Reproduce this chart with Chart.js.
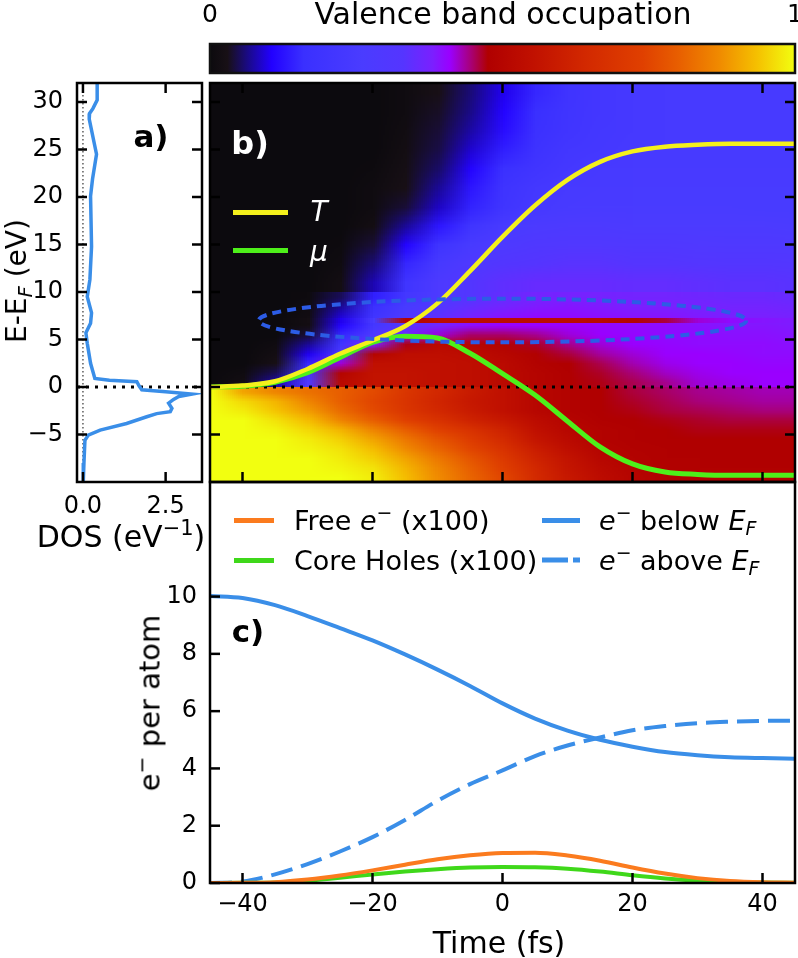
<!DOCTYPE html>
<html><head><meta charset="utf-8"><title>Valence band occupation</title>
<script src="https://cdn.jsdelivr.net/npm/chart.js@4.4.1/dist/chart.umd.min.js"></script>
<style>
html,body{margin:0;padding:0;background:#fff;}
body{width:798px;height:958px;position:relative;overflow:hidden;font-family:"DejaVu Sans",sans-serif;color:#000;}
.box{position:absolute;}
.t{position:absolute;white-space:nowrap;transform:translate(-50%,-50%);line-height:1;}
.l{position:absolute;white-space:nowrap;transform:translateY(-50%);line-height:1;}
.rot{transform:translate(-50%,-50%) rotate(-90deg);}
sub{font-size:70%;vertical-align:-0.3em;line-height:0;}
sup{font-size:70%;vertical-align:0.55em;line-height:0;}
.sw{position:absolute;height:5px;}
</style></head><body>
<div class="box" style="left:190px;top:0;width:608px;height:80px"><canvas id="cbar"></canvas></div>
<div class="box" style="left:0;top:70px;width:206px;height:500px"><canvas id="dos"></canvas></div>
<div class="box" style="left:200px;top:70px;width:598px;height:420px"><canvas id="heat"></canvas></div>
<div class="box" style="left:100px;top:470px;width:698px;height:488px"><canvas id="pop"></canvas></div>

<div class="t" style="left:503px;top:14px;font-size:30px">Valence band occupation</div>
<div class="t rot" style="left:17px;top:281px;font-size:28px">E-E<sub><i>F</i></sub> (eV)</div>
<div class="t" style="left:121px;top:537px;font-size:30px">DOS (eV<sup>−1</sup>)</div>
<div class="t rot" style="left:150px;top:703px;font-size:29px">e<sup>−</sup> per atom</div>
<div class="t" style="left:499px;top:943px;font-size:30px">Time (fs)</div>
<div class="t" style="left:151px;top:136px;font-size:31px;font-weight:bold">a)</div>
<div class="t" style="left:250px;top:143px;font-size:32px;font-weight:bold;color:#fff">b)</div>
<div class="t" style="left:248px;top:631px;font-size:31px;font-weight:bold">c)</div>

<div class="sw" style="left:233px;top:209.5px;width:55px;background:#f4f01c"></div>
<div class="t" style="left:319px;top:212px;font-size:28px;font-style:italic;color:#fff">T</div>
<div class="sw" style="left:233px;top:247.5px;width:55px;background:#4ef01a"></div>
<div class="t" style="left:319px;top:252px;font-size:28px;font-style:italic;color:#fff">μ</div>

<div class="sw" style="left:234px;top:517.5px;width:40px;background:#fb7b1e"></div>
<div class="l" style="left:294px;top:520px;font-size:27px">Free <i>e</i><sup>−</sup>&nbsp;(x100)</div>
<div class="sw" style="left:234px;top:557.5px;width:40px;background:#3fd81a"></div>
<div class="l" style="left:294px;top:560px;font-size:27px">Core Holes (x100)</div>
<div class="sw" style="left:542px;top:517.5px;width:38px;background:#3a8ee8"></div>
<div class="l" style="left:599px;top:520px;font-size:27px"><i>e</i><sup>−</sup> below <i>E<sub>F</sub></i></div>
<svg style="position:absolute;left:542px;top:555px" width="38" height="10"><line x1="0" y1="5" x2="38" y2="5" stroke="#3a8ee8" stroke-width="5" stroke-dasharray="26,5"/></svg>
<div class="l" style="left:599px;top:560px;font-size:27px"><i>e</i><sup>−</sup> above <i>E<sub>F</sub></i></div>

<script>
// ================= DATA =================
// colour bar
const cbTicks = [0, 1];
const cmapPos    = [0, 0.03, 0.065, 0.105, 0.16, 0.26, 0.33, 0.38, 0.41, 0.445, 0.475, 0.55, 0.64, 0.74, 0.80, 0.87, 0.935, 1];
const cmapColors = ['#0c0a0e','#181016','#1a0a88','#2200ff','#3a30ff','#4a3cff','#5535ff','#7a20ff','#9a00ff','#a8007a','#b00000','#c01000','#d22800','#e04000','#e85e00','#f08a00','#f5c000','#f2ff10'];

// panel a: density of states
const dosE   = [32.2, 30.2, 29.3, 28.8, 28.2, 24.5, 21.9, 20.1, 14.8, 11.3, 9.5, 7.8, 6.7, 5.7, 4.6, 2.5, 0.9, 0.7, 0.55, 0.1, -0.3, -0.5, -0.75, -1.0, -1.3, -1.7, -2.25, -2.6, -2.8, -3.13, -3.84, -4.54, -5.06, -5.6, -8.0, -10];
const dosVal = [0.43, 0.43, 0.30, 0.20, 0.19, 0.41, 0.29, 0.23, 0.26, 0.21, 0.13, 0.26, 0.23, 0.09, 0.13, 0.23, 0.36, 0.80, 1.63, 1.70, 1.78, 2.50, 3.29, 2.90, 2.74, 2.59, 2.69, 2.64, 2.23, 1.93, 1.32, 0.52, 0.16, 0.06, 0.03, 0.01];
const dosTicksX = [0, 2.5];
const energyTicks = [-5, 0, 5, 10, 15, 20, 25, 30];

// time axis (fs)
const timeFs = [-45,-40,-35,-30,-25,-20,-15,-10,-5,0,5,10,15,20,25,30,35,40,45];
const timeTicks = [-40, -20, 0, 20, 40];

// panel b: valence band occupation map (rows = energy, columns = timeFs)
const occLowE = [-9.5,-8.5,-7.5,-6.5,-5.5,-4.5,-3.5,-2.5,-1.5,-0.5];
const occLow = [
 [1,1,1,1,1,0.98,0.93,0.87,0.81,0.75,0.65,0.58,0.53,0.5,0.485,0.48,0.48,0.48,0.48],
 [1,1,1,1,0.99,0.97,0.92,0.86,0.8,0.73,0.64,0.57,0.52,0.495,0.48,0.48,0.48,0.48,0.48],
 [1,1,1,1,0.98,0.95,0.9,0.84,0.78,0.71,0.62,0.56,0.51,0.49,0.48,0.48,0.475,0.475,0.475],
 [1,1,1,0.99,0.97,0.93,0.87,0.81,0.75,0.68,0.6,0.54,0.5,0.485,0.48,0.475,0.475,0.475,0.475],
 [1,1,1,0.98,0.95,0.9,0.84,0.78,0.72,0.65,0.57,0.52,0.49,0.48,0.475,0.475,0.475,0.475,0.475],
 [1,1,0.99,0.96,0.92,0.86,0.8,0.74,0.68,0.62,0.55,0.51,0.49,0.48,0.475,0.47,0.47,0.47,0.47],
 [1,1,0.97,0.93,0.86,0.8,0.74,0.68,0.62,0.58,0.53,0.5,0.48,0.475,0.47,0.465,0.46,0.46,0.46],
 [1,0.98,0.94,0.89,0.82,0.76,0.7,0.64,0.59,0.55,0.51,0.49,0.475,0.47,0.46,0.455,0.45,0.445,0.445],
 [1,0.96,0.92,0.86,0.8,0.75,0.69,0.63,0.58,0.55,0.51,0.49,0.475,0.465,0.455,0.445,0.44,0.435,0.435],
 [1,0.9,0.86,0.83,0.8,0.76,0.7,0.64,0.59,0.55,0.51,0.49,0.475,0.46,0.45,0.44,0.435,0.43,0.43]
];
const occMidE = [0.5,1.5,2.5,3.5,4.5,5.5,6.5,7.5,8.5,9.5];
const occMid = [
 [0,0.02,0.08,0.3,0.52,0.56,0.56,0.55,0.54,0.52,0.5,0.48,0.47,0.455,0.44,0.42,0.415,0.41,0.41],
 [0,0.01,0.05,0.22,0.5,0.56,0.56,0.55,0.54,0.52,0.5,0.48,0.465,0.445,0.425,0.415,0.41,0.41,0.41],
 [0,0,0.03,0.15,0.42,0.55,0.55,0.55,0.54,0.52,0.49,0.475,0.455,0.43,0.415,0.41,0.41,0.405,0.405],
 [0,0,0.02,0.1,0.28,0.5,0.54,0.54,0.53,0.51,0.485,0.46,0.435,0.42,0.41,0.41,0.405,0.4,0.4],
 [0,0,0.01,0.07,0.2,0.38,0.47,0.52,0.51,0.49,0.465,0.44,0.42,0.41,0.405,0.4,0.4,0.4,0.395],
 [0,0,0,0.04,0.15,0.28,0.37,0.42,0.45,0.45,0.44,0.42,0.41,0.405,0.4,0.4,0.395,0.395,0.39],
 [0,0,0,0.02,0.11,0.23,0.32,0.37,0.4,0.41,0.41,0.41,0.405,0.4,0.4,0.395,0.39,0.39,0.385],
 [0,0,0,0.015,0.09,0.2,0.28,0.34,0.37,0.39,0.4,0.4,0.395,0.39,0.39,0.385,0.38,0.38,0.375],
 [0,0,0,0.01,0.07,0.17,0.25,0.31,0.35,0.37,0.385,0.39,0.385,0.38,0.38,0.375,0.37,0.37,0.365],
 [0,0,0,0.005,0.05,0.14,0.22,0.28,0.32,0.35,0.37,0.375,0.375,0.37,0.37,0.365,0.36,0.36,0.355]
];
const occHighE = [11,13,15,17,19,21,23,25,27,29,31];
const occHigh = [
 [0,0,0,0,0.02,0.08,0.2,0.28,0.32,0.345,0.355,0.355,0.355,0.35,0.35,0.345,0.34,0.34,0.335],
 [0,0,0,0,0.01,0.06,0.15,0.24,0.29,0.32,0.33,0.335,0.335,0.33,0.33,0.325,0.32,0.32,0.315],
 [0,0,0,0,0.005,0.04,0.11,0.19,0.25,0.285,0.3,0.305,0.305,0.3,0.3,0.295,0.29,0.29,0.29],
 [0,0,0,0,0,0.02,0.07,0.13,0.2,0.25,0.27,0.28,0.28,0.275,0.275,0.27,0.27,0.27,0.265],
 [0,0,0,0,0,0.01,0.04,0.085,0.145,0.2,0.235,0.25,0.255,0.255,0.255,0.255,0.255,0.25,0.25],
 [0,0,0,0,0,0.01,0.03,0.07,0.13,0.19,0.225,0.24,0.245,0.25,0.25,0.25,0.25,0.25,0.25],
 [0,0,0,0,0,0.005,0.025,0.055,0.11,0.165,0.205,0.23,0.24,0.245,0.245,0.245,0.245,0.245,0.245],
 [0,0,0,0,0,0,0.02,0.045,0.09,0.14,0.185,0.215,0.23,0.24,0.24,0.24,0.24,0.24,0.24],
 [0,0,0,0,0,0,0.015,0.04,0.075,0.12,0.17,0.205,0.225,0.235,0.24,0.24,0.24,0.24,0.24],
 [0,0,0,0,0,0,0.01,0.035,0.065,0.11,0.16,0.2,0.22,0.235,0.24,0.24,0.24,0.24,0.24],
 [0,0,0,0,0,0,0.01,0.03,0.06,0.1,0.15,0.195,0.22,0.235,0.24,0.24,0.24,0.24,0.24]
];
// narrow occupied level near 7 eV
const stripeEdges = [6.7, 7.3];
const stripeOcc = [0,0,0,0.02,0.1,0.25,0.5,0.53,0.53,0.53,0.53,0.53,0.52,0.5,0.46,0.42,0.4,0.39,0.385];

// panel b: temperature T and chemical potential mu (eV)
const tempT = [0, 0.15, 0.6, 1.9, 3.5, 4.9, 6.4, 8.8, 12.2, 15.8, 19.1, 21.8, 23.7, 24.8, 25.3, 25.5, 25.6, 25.6, 25.6];
const chemMu = [0, 0.08, 0.5, 1.5, 3.1, 4.7, 5.35, 5.15, 3.55, 1.4, -0.85, -3.6, -6.3, -8.1, -8.95, -9.2, -9.3, -9.3, -9.3];
// highlighted region (ellipse): centre (time, energy) and half-widths
const ellipseCenter = [0, 7.0];
const ellipseHalf = [37.5, 2.3];

// panel c: electrons per atom
const eBelow = [10.02, 9.95, 9.7, 9.32, 8.9, 8.47, 7.98, 7.45, 6.88, 6.27, 5.74, 5.32, 5.0, 4.76, 4.57, 4.46, 4.39, 4.36, 4.34];
const eAbove = [0, 0.05, 0.3, 0.66, 1.1, 1.6, 2.2, 2.87, 3.45, 3.93, 4.43, 4.8, 5.08, 5.33, 5.48, 5.58, 5.63, 5.66, 5.67];
const freeE100 = [0, 0.005, 0.03, 0.12, 0.26, 0.44, 0.64, 0.83, 0.97, 1.05, 1.06, 0.96, 0.78, 0.54, 0.33, 0.17, 0.07, 0.025, 0.01];
const coreHoles100 = [0, 0.005, 0.02, 0.08, 0.18, 0.3, 0.4, 0.48, 0.54, 0.56, 0.55, 0.5, 0.4, 0.27, 0.16, 0.08, 0.035, 0.015, 0.005];
const popTicksY = [0, 2, 4, 6, 8, 10];

// ================= HELPERS =================
Chart.defaults.font.family = '"DejaVu Sans", sans-serif';
Chart.defaults.color = '#000';
const minus = v => String(v).replace('-', '\u2212');
const hex = h => [1,3,5].map(i => parseInt(h.substr(i,2),16));
const cmapRGB = cmapColors.map(hex);
function cmap(v){
  v = Math.max(0, Math.min(1, v));
  let i = 1; while (i < cmapPos.length - 1 && v > cmapPos[i]) i++;
  const f = (v - cmapPos[i-1]) / (cmapPos[i] - cmapPos[i-1]);
  return [0,1,2].map(k => Math.round(cmapRGB[i-1][k] + (cmapRGB[i][k] - cmapRGB[i-1][k]) * f));
}
function drawOcc(chart, rows, eLo, eHi){
  const nx = timeFs.length, ny = rows.length;
  const off = document.createElement('canvas'); off.width = nx; off.height = ny;
  const octx = off.getContext('2d'); const img = octx.createImageData(nx, ny);
  for (let r = 0; r < ny; r++){
    const row = rows[ny - 1 - r];
    for (let c = 0; c < nx; c++){
      const col = cmap(row[c]); const k = (r*nx + c)*4;
      img.data[k] = col[0]; img.data[k+1] = col[1]; img.data[k+2] = col[2]; img.data[k+3] = 255;
    }
  }
  octx.putImageData(img, 0, 0);
  const xs = chart.scales.x, ys = chart.scales.y, ctx = chart.ctx;
  const dt = timeFs[1] - timeFs[0];
  const x0 = xs.getPixelForValue(timeFs[0] - dt/2), x1 = xs.getPixelForValue(timeFs[nx-1] + dt/2);
  const y0 = ys.getPixelForValue(eHi), y1 = ys.getPixelForValue(eLo);
  ctx.imageSmoothingEnabled = true; ctx.imageSmoothingQuality = 'low';
  ctx.drawImage(off, x0, y0, x1 - x0, y1 - y0);
}
function deco(chart, spec){
  const {ctx, chartArea: a} = chart; const xs = chart.scales.x, ys = chart.scales.y;
  const L = 10;
  ctx.save(); ctx.strokeStyle = '#000'; ctx.lineWidth = 2.5;
  (spec.xt || []).forEach(v => { const p = xs.getPixelForValue(v);
    (spec.xs || []).forEach(s => { ctx.beginPath();
      if (s === 'b'){ ctx.moveTo(p, a.bottom); ctx.lineTo(p, a.bottom - L); } else { ctx.moveTo(p, a.top); ctx.lineTo(p, a.top + L); }
      ctx.stroke(); }); });
  (spec.yt || []).forEach(v => { const p = ys.getPixelForValue(v);
    (spec.ys || []).forEach(s => { ctx.beginPath();
      if (s === 'l'){ ctx.moveTo(a.left, p); ctx.lineTo(a.left + L, p); } else { ctx.moveTo(a.right, p); ctx.lineTo(a.right - L, p); }
      ctx.stroke(); }); });
  ctx.strokeRect(a.left, a.top, a.right - a.left, a.bottom - a.top);
  ctx.restore();
}
function zeroLine(chart){
  const {ctx, chartArea: a} = chart; const p = chart.scales.y.getPixelForValue(0);
  ctx.save(); ctx.strokeStyle = '#000'; ctx.lineWidth = 3; ctx.setLineDash([3, 6]);
  ctx.beginPath(); ctx.moveTo(a.left, p); ctx.lineTo(a.right, p); ctx.stroke(); ctx.restore();
}
const base = {responsive: true, maintainAspectRatio: false, animation: false, events: [],
  plugins: {legend: {display: false}, tooltip: {enabled: false}}};
const pts = (xs, ys) => xs.map((x, i) => ({x: x, y: ys[i]}));
const tickFont = {size: 24};

// ================= COLOUR BAR =================
new Chart(document.getElementById('cbar'), {
  type: 'scatter', data: {datasets: []},
  options: Object.assign({}, base, {
    layout: {padding: {left: 20, right: 3, top: 0, bottom: 7}},
    scales: {
      x: {type: 'linear', position: 'top', min: 0, max: 1,
        afterBuildTicks: s => { s.ticks = cbTicks.map(v => ({value: v})); },
        afterFit: s => { s.height = 44; s.paddingLeft = 0; s.paddingRight = 0; },
        grid: {display: false, drawTicks: false}, border: {display: false},
        ticks: {padding: 14, font: {size: 25}, autoSkip: false, maxRotation: 0, callback: v => String(v)}},
      y: {display: false, min: 0, max: 1}
    }}),
  plugins: [{id: 'cb', afterDraw(chart){
    const {ctx, chartArea: a} = chart; const x = chart.scales.x;
    const x0 = x.getPixelForValue(0), x1 = x.getPixelForValue(1);
    const g = ctx.createLinearGradient(x0, 0, x1, 0);
    cmapPos.forEach((p, i) => g.addColorStop(p, cmapColors[i]));
    ctx.save(); ctx.fillStyle = g; ctx.fillRect(x0, a.top, x1 - x0, a.bottom - a.top);
    ctx.lineWidth = 2.5; ctx.strokeStyle = '#111'; ctx.strokeRect(x0, a.top, x1 - x0, a.bottom - a.top); ctx.restore();
  }}]
});

// ================= PANEL A =================
new Chart(document.getElementById('dos'), {
  type: 'scatter',
  data: {datasets: [{data: pts(dosVal, dosE), showLine: true, borderColor: '#3a8ee8', borderWidth: 3.5, pointRadius: 0, tension: 0}]},
  options: Object.assign({}, base, {
    layout: {padding: {left: 0, right: 4, top: 13, bottom: 0}},
    scales: {
      x: {type: 'linear', min: -0.18, max: 3.6,
        afterBuildTicks: s => { s.ticks = dosTicksX.map(v => ({value: v})); },
        afterFit: s => { s.height = 88; s.paddingLeft = 0; s.paddingRight = 0; },
        grid: {display: false, drawTicks: false}, border: {display: false},
        ticks: {padding: 10, font: tickFont, maxRotation: 0, autoSkip: false, callback: v => v.toFixed(1)}},
      y: {type: 'linear', min: -10, max: 32,
        afterBuildTicks: s => { s.ticks = energyTicks.map(v => ({value: v})); },
        afterFit: s => { s.width = 77; s.paddingTop = 0; s.paddingBottom = 0; },
        grid: {display: false, drawTicks: false}, border: {display: false},
        ticks: {padding: 14, font: tickFont, autoSkip: false, callback: minus}}
    }}),
  plugins: [{id: 'a', beforeDatasetsDraw(chart){
      const {ctx, chartArea: a} = chart; const p = chart.scales.x.getPixelForValue(0);
      ctx.save(); ctx.strokeStyle = '#333'; ctx.lineWidth = 1.2; ctx.setLineDash([1.5, 2.5]);
      ctx.beginPath(); ctx.moveTo(p, a.top); ctx.lineTo(p, a.bottom); ctx.stroke(); ctx.restore();
      zeroLine(chart);
    },
    afterDatasetsDraw(chart){ deco(chart, {xt: dosTicksX, xs: ['t','b'], yt: energyTicks, ys: ['l','r']}); }}]
});

// ================= PANEL B =================
new Chart(document.getElementById('heat'), {
  type: 'scatter',
  data: {datasets: [
    {label: 'T', data: pts(timeFs, tempT), showLine: true, borderColor: '#f4f01c', borderWidth: 4.5, pointRadius: 0, cubicInterpolationMode: 'monotone'},
    {label: 'μ', data: pts(timeFs, chemMu), showLine: true, borderColor: '#4ef01a', borderWidth: 5, pointRadius: 0, cubicInterpolationMode: 'monotone'}
  ]},
  options: Object.assign({}, base, {
    layout: {padding: {left: 10, right: 3, top: 13, bottom: 8}},
    scales: {
      x: {type: 'linear', display: false, min: -45, max: 45},
      y: {type: 'linear', display: false, min: -10, max: 32}
    }}),
  plugins: [{id: 'b', beforeDatasetsDraw(chart){
      const {ctx, chartArea: a} = chart;
      ctx.save(); ctx.beginPath(); ctx.rect(a.left, a.top, a.right - a.left, a.bottom - a.top); ctx.clip();
      drawOcc(chart, occLow, -10, 0);
      drawOcc(chart, occMid, 0, 10);
      drawOcc(chart, occHigh, 10, 32);
      drawOcc(chart, [stripeOcc], stripeEdges[0], stripeEdges[1]);
      ctx.restore();
      zeroLine(chart);
    },
    afterDatasetsDraw(chart){
      const {ctx} = chart; const xs = chart.scales.x, ys = chart.scales.y;
      const cx = xs.getPixelForValue(ellipseCenter[0]), cy = ys.getPixelForValue(ellipseCenter[1]);
      const rx = Math.abs(xs.getPixelForValue(ellipseCenter[0] + ellipseHalf[0]) - cx);
      const ry = Math.abs(ys.getPixelForValue(ellipseCenter[1] + ellipseHalf[1]) - cy);
      ctx.save(); ctx.strokeStyle = '#2c5ce6'; ctx.lineWidth = 4; ctx.setLineDash([9, 6]);
      ctx.beginPath(); ctx.ellipse(cx, cy, rx, ry, 0, 0, Math.PI*2); ctx.stroke(); ctx.restore();
      deco(chart, {xt: timeTicks, xs: ['t','b'], yt: energyTicks, ys: ['l','r']});
    }}]
});

// ================= PANEL C =================
new Chart(document.getElementById('pop'), {
  type: 'scatter',
  data: {datasets: [
    {label: 'Free e- (x100)', data: pts(timeFs, freeE100), showLine: true, borderColor: '#fb7b1e', borderWidth: 4, pointRadius: 0, cubicInterpolationMode: 'monotone'},
    {label: 'Core Holes (x100)', data: pts(timeFs, coreHoles100), showLine: true, borderColor: '#3fd81a', borderWidth: 4, pointRadius: 0, cubicInterpolationMode: 'monotone'},
    {label: 'e- below EF', data: pts(timeFs, eBelow), showLine: true, borderColor: '#3a8ee8', borderWidth: 4, pointRadius: 0, cubicInterpolationMode: 'monotone'},
    {label: 'e- above EF', data: pts(timeFs, eAbove), showLine: true, borderColor: '#3a8ee8', borderWidth: 4, borderDash: [22, 9], pointRadius: 0, cubicInterpolationMode: 'monotone'}
  ]},
  options: Object.assign({}, base, {
    layout: {padding: {left: 0, right: 3, top: 12, bottom: 0}},
    scales: {
      x: {type: 'linear', min: -45, max: 45,
        afterBuildTicks: s => { s.ticks = timeTicks.map(v => ({value: v})); },
        afterFit: s => { s.height = 75; s.paddingLeft = 0; s.paddingRight = 0; },
        grid: {display: false, drawTicks: false}, border: {display: false},
        ticks: {padding: 7, font: tickFont, maxRotation: 0, autoSkip: false, callback: minus}},
      y: {type: 'linear', min: 0, max: 14,
        afterBuildTicks: s => { s.ticks = popTicksY.map(v => ({value: v})); },
        afterFit: s => { s.width = 110; s.paddingTop = 0; s.paddingBottom = 0; },
        grid: {display: false, drawTicks: false}, border: {display: false},
        ticks: {padding: 13, font: tickFont, autoSkip: false, callback: minus}}
    }}),
  plugins: [{id: 'c', afterDatasetsDraw(chart){ deco(chart, {xt: timeTicks, xs: ['b'], yt: popTicksY, ys: ['l']}); }}]
});
</script>
</body></html>
